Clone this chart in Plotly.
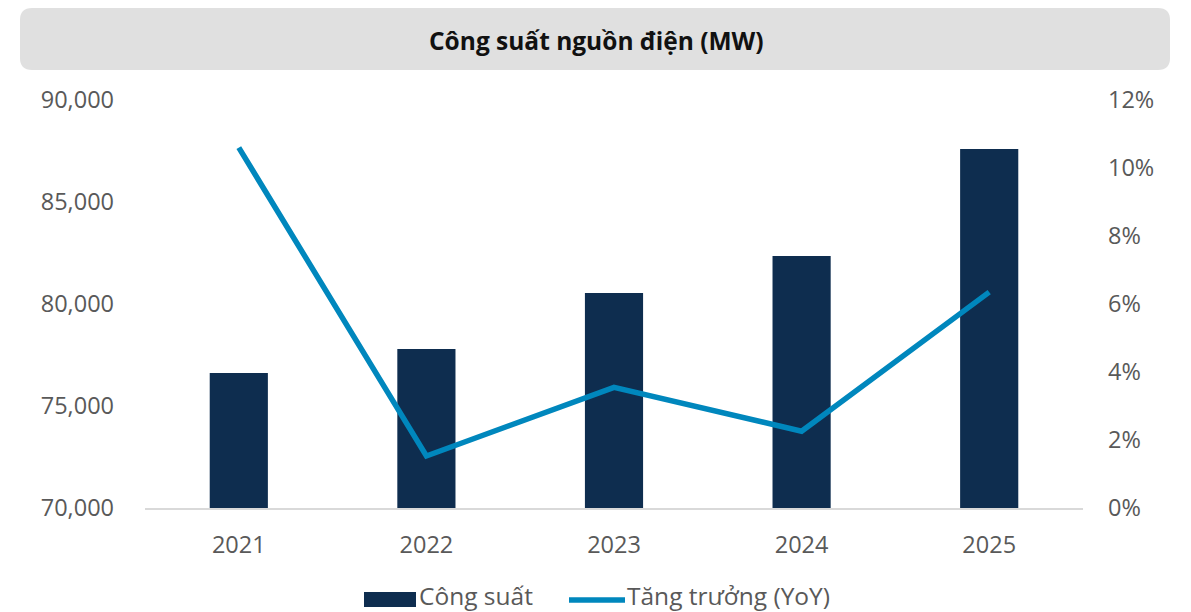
import plotly.graph_objects as go

years = ["2021", "2022", "2023", "2024", "2025"]
capacity = [76620, 77790, 80540, 82350, 87600]
growth = [10.6, 1.53, 3.55, 2.26, 6.35]

left_ticks = [70000, 75000, 80000, 85000, 90000]
right_ticks = [0, 2, 4, 6, 8, 10, 12]

BAR = "#0e2d4f"
LINE = "#0087bd"
TXT = "#595959"
FONT = "Open Sans"
TICK = 23.5

W, H = 1191, 612
L, R, T, B = 145, 108, 100, 104

fig = go.Figure()
fig.add_trace(go.Bar(x=years, y=capacity, name="Công suất", marker_color=BAR,
                     marker_line_width=0, yaxis="y"))
fig.add_trace(go.Scatter(x=years, y=growth, name="Tăng trưởng (YoY)", mode="lines",
                         line=dict(color=LINE, width=5.5), yaxis="y2"))

fig.update_layout(
    width=W, height=H,
    margin=dict(l=L, r=R, t=T, b=B),
    paper_bgcolor="white", plot_bgcolor="white",
    font=dict(family=FONT, color=TXT, size=22),
    showlegend=False,
    bargap=0.69,
    xaxis=dict(showgrid=False, showline=True, linecolor="#d9d9d9", linewidth=1.5,
               ticks="", ticklabelstandoff=15, tickfont=dict(size=TICK, color=TXT)),
    yaxis=dict(range=[70000, 90000], tickvals=left_ticks,
               ticktext=[f"{v:,}" for v in left_ticks], showgrid=False,
               zeroline=False, ticklabelstandoff=30, tickfont=dict(size=TICK, color=TXT)),
    yaxis2=dict(range=[0, 12], tickvals=right_ticks,
                ticktext=[f"{v}%" for v in right_ticks], overlaying="y", side="right",
                showgrid=False, zeroline=False, ticklabelstandoff=24,
                tickfont=dict(size=TICK, color=TXT)),
)

pw = W - L - R
ph = H - T - B
def px(xp):
    return (xp - L) / pw
def py(yp):
    return (H - B - yp) / ph

def rounded(x0, y0, x1, y1, r):
    return (f"M {px(x0+r)},{py(y0)} L {px(x1-r)},{py(y0)} "
            f"Q {px(x1)},{py(y0)} {px(x1)},{py(y0+r)} L {px(x1)},{py(y1-r)} "
            f"Q {px(x1)},{py(y1)} {px(x1-r)},{py(y1)} L {px(x0+r)},{py(y1)} "
            f"Q {px(x0)},{py(y1)} {px(x0)},{py(y1-r)} L {px(x0)},{py(y0+r)} "
            f"Q {px(x0)},{py(y0)} {px(x0+r)},{py(y0)} Z")

# title box
fig.add_shape(type="path", xref="paper", yref="paper", path=rounded(20, 8, 1170, 70, 12),
              fillcolor="#e0e0e0", line_width=0, layer="below")
fig.add_annotation(xref="paper", yref="paper", x=px(596), y=py(40),
                   text="<b>Công suất nguồn điện (MW)</b>", showarrow=False,
                   font=dict(size=24.5, color="#111111", family=FONT),
                   xanchor="center", yanchor="middle")

# legend
fig.add_shape(type="rect", xref="paper", yref="paper",
              x0=px(364), x1=px(416), y0=py(592), y1=py(607),
              fillcolor=BAR, line_width=0)
fig.add_annotation(xref="paper", yref="paper", x=px(417), y=py(595),
                   text="Công suất", showarrow=False, xanchor="left", yanchor="middle",
                   font=dict(size=24.5, color=TXT, family=FONT))
fig.add_shape(type="line", xref="paper", yref="paper",
              x0=px(569), x1=px(625), y0=py(600), y1=py(600),
              line=dict(color=LINE, width=5.5))
fig.add_annotation(xref="paper", yref="paper", x=px(625), y=py(595),
                   text="Tăng trưởng (YoY)", showarrow=False, xanchor="left", yanchor="middle",
                   font=dict(size=24.5, color=TXT, family=FONT))

fig.write_html("out.html", config={"displayModeBar": False},
               post_script="document.body.style.margin='0px';")
